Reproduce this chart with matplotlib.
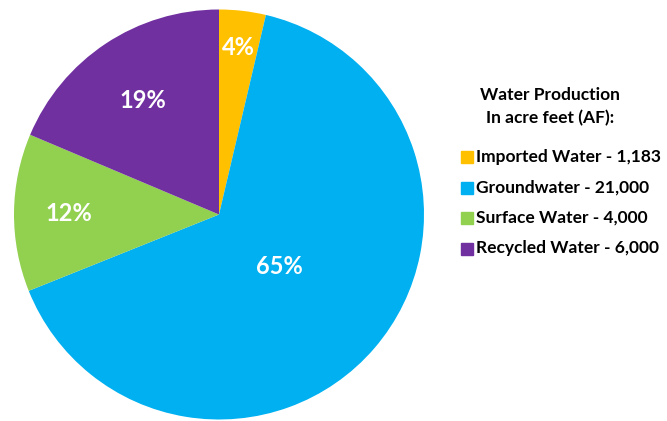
import numpy as np
import matplotlib.pyplot as plt
from matplotlib.patches import Rectangle

sources = ["Imported Water", "Groundwater", "Surface Water", "Recycled Water"]
acre_feet = [1183, 21000, 4000, 6000]
colors = ["#FFC000", "#00B0F0", "#92D050", "#7030A0"]
label_dist = [0.82, 0.39, 0.73, 0.67]

W, H = 667, 421
plt.rcParams['font.family'] = ['Lato', 'DejaVu Sans']
fig = plt.figure(figsize=(W / 100, H / 100), dpi=100)

# pie axes: circle centre (219, 214.5) px, radius 205 px
cx, cy, R = 219, 214.5, 205
ax = fig.add_axes([(cx - R) / W, (H - cy - R) / H, 2 * R / W, 2 * R / H])
wedges, _ = ax.pie(acre_feet, colors=colors, startangle=90, counterclock=False,
                   wedgeprops=dict(linewidth=0))
ax.set_xlim(-1, 1)
ax.set_ylim(-1, 1)
ax.set_aspect("equal")
ax.axis("off")

total = sum(acre_feet)
for w, v, d in zip(wedges, acre_feet, label_dist):
    ang = np.deg2rad((w.theta1 + w.theta2) / 2)
    ax.text(d * np.cos(ang), d * np.sin(ang), f"{round(100 * v / total)}%",
            ha="center", va="center", color="white", fontsize=17, fontweight="bold")

# legend
fig.text(550 / W, 1 - 95 / H, "Water Production", ha="center", va="center",
         fontsize=12.5, fontweight="bold")
fig.text(550 / W, 1 - 118 / H, "In acre feet (AF):", ha="center", va="center",
         fontsize=12.5, fontweight="bold")
for i, (s, v, c) in enumerate(zip(sources, acre_feet, colors)):
    y = 157 + i * 30.5
    fig.patches.append(Rectangle((461 / W, 1 - (y + 6) / H), 12 / W, 12 / H,
                                 transform=fig.transFigure, color=c))
    fig.text(476 / W, 1 - y / H, f"{s} - {v:,}", ha="left", va="center",
             fontsize=12.5, fontweight="bold")

fig.savefig("out.png", dpi=100)
